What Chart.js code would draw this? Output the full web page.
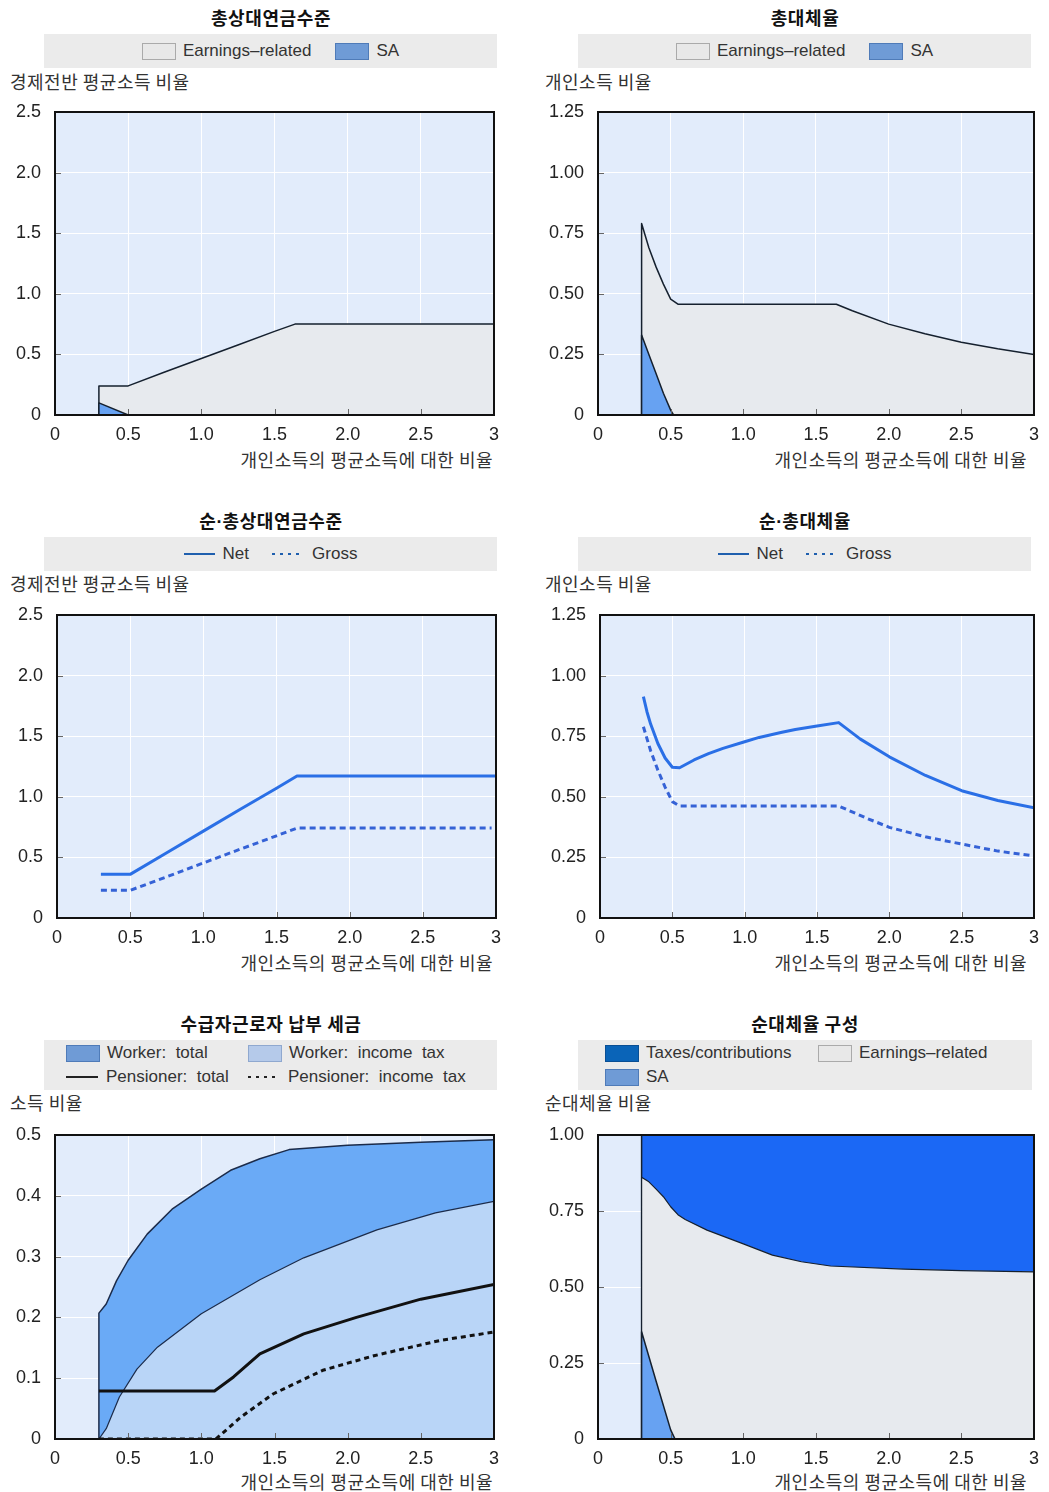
<!DOCTYPE html>
<html>
<head>
<meta charset="utf-8">
<script src="https://cdn.jsdelivr.net/npm/chart.js@4.4.1/dist/chart.umd.min.js"></script>
<style>
  html, body { margin: 0; padding: 0; background: #fff; }
  body { position: relative; width: 1049px; height: 1492px; overflow: hidden;
         font-family: "Liberation Sans", Arial, sans-serif; color: #333; }
  .abs { position: absolute; }
  .title { font-family: "Noto Sans CJK KR", sans-serif; font-weight: 700; font-size: 18px;
           letter-spacing: 0.6px; color: #111; width: 454px; text-align: center; line-height: 22px; }
  .title .dot { font-family: "Liberation Sans", Arial, sans-serif; letter-spacing: 0; }
  .unit, .xtitle { font-family: "Noto Sans CJK KR", sans-serif; font-size: 18px; letter-spacing: 0.5px;
                   color: #333; line-height: 22px; white-space: nowrap; }
  .xtitle { text-align: right; width: 400px; }
  .legend { background: #ebebeb; width: 453px; font-size: 17px; color: #333; }
  .legend.one { height: 34px; display: flex; align-items: center; justify-content: center; }
  .legend.two { height: 50px; }
  .item { display: flex; align-items: center; white-space: nowrap; }
  .sw { width: 34px; height: 17px; box-sizing: border-box; border: 1px solid #999; margin-right: 7px; }
  .ln { width: 31px; height: 2.5px; margin-right: 8px; }
  .dots { width: 28px; height: 2.5px; margin-right: 12px; }
  .row { position: absolute; left: 22px; height: 24px; display: flex; align-items: center; }
  canvas { position: absolute; }
</style>
</head>
<body>

<!-- panel titles -->
<div class="abs title" style="left:44px;top:6px">총상대연금수준</div>
<div class="abs title" style="left:578px;top:6px">총대체율</div>
<div class="abs title" style="left:44px;top:509px">순<span class="dot">·</span>총상대연금수준</div>
<div class="abs title" style="left:578px;top:509px">순<span class="dot">·</span>총대체율</div>
<div class="abs title" style="left:44px;top:1012px">수급자근로자 납부 세금</div>
<div class="abs title" style="left:578px;top:1012px">순대체율 구성</div>

<!-- legends -->
<div class="abs legend one" style="left:44px;top:34px">
  <div class="item"><span class="sw" style="background:#e8e8e8;border-color:#aaa"></span>Earnings–related</div>
  <div class="item" style="margin-left:24px"><span class="sw" style="background:#6f9bd6;border-color:#4f7bb8"></span>SA</div>
</div>
<div class="abs legend one" style="left:578px;top:34px">
  <div class="item"><span class="sw" style="background:#e8e8e8;border-color:#aaa"></span>Earnings–related</div>
  <div class="item" style="margin-left:24px"><span class="sw" style="background:#6f9bd6;border-color:#4f7bb8"></span>SA</div>
</div>
<div class="abs legend one" style="left:44px;top:537px">
  <div class="item"><span class="ln" style="background:#1f5fae"></span>Net</div>
  <div class="item" style="margin-left:23px"><span class="dots" style="background:repeating-linear-gradient(90deg,#1f5fae 0 3px,transparent 3px 8px)"></span>Gross</div>
</div>
<div class="abs legend one" style="left:578px;top:537px">
  <div class="item"><span class="ln" style="background:#1f5fae"></span>Net</div>
  <div class="item" style="margin-left:23px"><span class="dots" style="background:repeating-linear-gradient(90deg,#1f5fae 0 3px,transparent 3px 8px)"></span>Gross</div>
</div>
<div class="abs legend two" style="left:44px;top:1040px">
  <div class="row" style="top:1px">
    <div class="item" style="width:182px"><span class="sw" style="background:#6f9bd6;border-color:#4f7bb8"></span>Worker:&nbsp; total</div>
    <div class="item"><span class="sw" style="background:#b5caea;border-color:#8fa8cf"></span>Worker:&nbsp; income&nbsp; tax</div>
  </div>
  <div class="row" style="top:25px">
    <div class="item" style="width:182px"><span class="ln" style="width:32px;background:#222"></span>Pensioner:&nbsp; total</div>
    <div class="item"><span class="dots" style="background:repeating-linear-gradient(90deg,#222 0 3px,transparent 3px 8px)"></span>Pensioner:&nbsp; income&nbsp; tax</div>
  </div>
</div>
<div class="abs legend two" style="left:578px;top:1040px;width:454px">
  <div class="row" style="top:1px;left:27px">
    <div class="item" style="width:213px"><span class="sw" style="background:#0a64b8;border-color:#0a4f94"></span>Taxes/contributions</div>
    <div class="item"><span class="sw" style="background:#e8e8e8;border-color:#aaa"></span>Earnings–related</div>
  </div>
  <div class="row" style="top:25px;left:27px">
    <div class="item"><span class="sw" style="background:#6f9bd6;border-color:#4f7bb8"></span>SA</div>
  </div>
</div>

<!-- y-axis units -->
<div class="abs unit" style="left:10px;top:70px">경제전반 평균소득 비율</div>
<div class="abs unit" style="left:545px;top:70px">개인소득 비율</div>
<div class="abs unit" style="left:10px;top:572px">경제전반 평균소득 비율</div>
<div class="abs unit" style="left:545px;top:572px">개인소득 비율</div>
<div class="abs unit" style="left:10px;top:1091px">소득 비율</div>
<div class="abs unit" style="left:545px;top:1091px">순대체율 비율</div>

<!-- x-axis titles -->
<div class="abs xtitle" style="left:93px;top:448px">개인소득의 평균소득에 대한 비율</div>
<div class="abs xtitle" style="left:627px;top:448px">개인소득의 평균소득에 대한 비율</div>
<div class="abs xtitle" style="left:93px;top:951px">개인소득의 평균소득에 대한 비율</div>
<div class="abs xtitle" style="left:627px;top:951px">개인소득의 평균소득에 대한 비율</div>
<div class="abs xtitle" style="left:93px;top:1470px">개인소득의 평균소득에 대한 비율</div>
<div class="abs xtitle" style="left:627px;top:1470px">개인소득의 평균소득에 대한 비율</div>

<canvas id="cLevel"  width="520" height="370" style="left:0px;top:88px"></canvas>
<canvas id="cRate"   width="514" height="370" style="left:535px;top:88px"></canvas>
<canvas id="cNetLvl" width="520" height="370" style="left:0px;top:591px"></canvas>
<canvas id="cNetRt"  width="514" height="370" style="left:535px;top:591px"></canvas>
<canvas id="cTax"    width="520" height="370" style="left:0px;top:1111px"></canvas>
<canvas id="cComp"   width="514" height="370" style="left:535px;top:1111px"></canvas>

<script>
// ---- axis ticks -------------------------------------------------------
const X_TICKS = [0, 0.5, 1, 1.5, 2, 2.5, 3];
const X_TICK_LABELS = ['0', '0.5', '1.0', '1.5', '2.0', '2.5', '3'];
const Y_TICKS_LEVEL = [0, 0.5, 1, 1.5, 2, 2.5];
const Y_LABELS_LEVEL = ['0', '0.5', '1.0', '1.5', '2.0', '2.5'];
const Y_TICKS_RATE = [0, 0.25, 0.5, 0.75, 1, 1.25];
const Y_LABELS_RATE = ['0', '0.25', '0.50', '0.75', '1.00', '1.25'];
const Y_TICKS_TAX = [0, 0.1, 0.2, 0.3, 0.4, 0.5];
const Y_LABELS_TAX = ['0', '0.1', '0.2', '0.3', '0.4', '0.5'];
const Y_TICKS_COMP = [0, 0.25, 0.5, 0.75, 1];
const Y_LABELS_COMP = ['0', '0.25', '0.50', '0.75', '1.00'];

// ---- gross pension level (earnings-related area top, SA) ---------------
const levelErX = [0.3, 0.3, 0.5, 0.75, 1.0, 1.25, 1.5, 1.64, 2.0, 2.5, 3.0];
const levelErY = [0, 0.24, 0.24, 0.355, 0.466, 0.578, 0.69, 0.75, 0.75, 0.75, 0.75];
const levelSaX = [0.3, 0.3, 0.5];
const levelSaY = [0, 0.10, 0];

// ---- gross replacement rate ----------------------------------------------
const rateErX = [0.3, 0.3, 0.35, 0.4, 0.45, 0.5, 0.55, 1.0, 1.5, 1.64, 1.75, 2.0, 2.25, 2.5, 2.75, 3.0];
const rateErY = [0, 0.79, 0.69, 0.61, 0.54, 0.478, 0.457, 0.457, 0.457, 0.457, 0.43, 0.375, 0.335, 0.30, 0.273, 0.25];
const rateSaX = [0.3, 0.3, 0.35, 0.4, 0.45, 0.5, 0.52];
const rateSaY = [0, 0.33, 0.25, 0.17, 0.09, 0.02, 0];

// ---- net and gross pension level -----------------------------------------
const netLevelX = [0.3, 0.5, 0.75, 1.0, 1.25, 1.5, 1.64, 2.0, 2.5, 3.0];
const netLevelY = [0.36, 0.36, 0.538, 0.717, 0.895, 1.07, 1.172, 1.172, 1.172, 1.172];
const grossLevelX = [0.3, 0.5, 0.75, 1.0, 1.25, 1.5, 1.64, 2.0, 2.5, 2.97];
const grossLevelY = [0.228, 0.228, 0.34, 0.454, 0.567, 0.678, 0.742, 0.742, 0.742, 0.742];

// ---- net and gross replacement rate --------------------------------------
const netRateX = [0.3, 0.325, 0.35, 0.4, 0.45, 0.5, 0.55, 0.65, 0.75, 0.85, 1.0, 1.1, 1.25, 1.35, 1.5, 1.65,
                  1.8, 2.0, 2.25, 2.5, 2.75, 3.0];
const netRateY = [0.913, 0.85, 0.80, 0.72, 0.66, 0.622, 0.62, 0.652, 0.678, 0.70, 0.727, 0.745, 0.765, 0.778, 0.792, 0.806,
                  0.738, 0.665, 0.588, 0.525, 0.485, 0.455];
const grossRateX = [0.3, 0.35, 0.4, 0.45, 0.5, 0.55, 1.0, 1.5, 1.65, 1.85, 2.0, 2.25, 2.5, 2.75, 3.0];
const grossRateY = [0.789, 0.69, 0.61, 0.54, 0.48, 0.462, 0.462, 0.462, 0.462, 0.41, 0.374, 0.335, 0.305, 0.276, 0.256];

// ---- taxes paid by pensioners and workers --------------------------------
const workerTotalX = [0.3, 0.3, 0.35, 0.42, 0.5, 0.63, 0.8, 1.0, 1.2, 1.4, 1.6, 2.0, 2.5, 3.0];
const workerTotalY = [0, 0.207, 0.222, 0.26, 0.294, 0.337, 0.378, 0.411, 0.442, 0.461, 0.476, 0.483, 0.488, 0.492];
const workerIncomeTaxX = [0.3, 0.35, 0.44, 0.56, 0.7, 1.0, 1.4, 1.7, 2.2, 2.6, 3.0];
const workerIncomeTaxY = [0, 0.017, 0.069, 0.115, 0.151, 0.206, 0.262, 0.298, 0.344, 0.372, 0.391];
const pensionerTotalX = [0.3, 1.09, 1.22, 1.4, 1.7, 2.06, 2.5, 3.0];
const pensionerTotalY = [0.079, 0.079, 0.102, 0.140, 0.173, 0.200, 0.230, 0.254];
const pensionerIncomeTaxX = [0.3, 1.1, 1.27, 1.49, 1.83, 2.18, 2.63, 3.0];
const pensionerIncomeTaxY = [0, 0, 0.036, 0.074, 0.113, 0.137, 0.162, 0.176];

// ---- composition of the net replacement rate (cumulative tops) -----------
const compTaxX = [0.3, 0.3, 3.0];
const compTaxY = [0, 1.0, 1.0];
const compErX = [0.3, 0.3, 0.35, 0.4, 0.45, 0.5, 0.55, 0.6, 0.75, 1.0, 1.2, 1.4, 1.6, 2.1, 2.5, 3.0];
const compErY = [0, 0.861, 0.846, 0.822, 0.797, 0.764, 0.738, 0.722, 0.687, 0.642, 0.605, 0.583, 0.569, 0.559, 0.554, 0.55];
const compSaX = [0.3, 0.3, 0.4, 0.5, 0.53];
const compSaY = [0, 0.353, 0.19, 0.03, 0];

// ---- styling --------------------------------------------------------------
const PLOT_BG = '#e2ecfb';
const ER_FILL = '#e7eaee';
const SA_FILL = '#67a2f2';
const OUTLINE = '#15202e';
const NET_COLOR = '#2a6fe6';
const GROSS_COLOR = '#3562d6';
const CANVAS_H = 370;
const PLOT_TOP = 24;   // label half line-height + tick padding
const TICK_FONT = { family: "'Liberation Sans', Arial, sans-serif", size: 18, lineHeight: '20px' };

function pts(xs, ys) { return xs.map((x, i) => ({ x: x, y: ys[i] })); }

// light-blue plot background, dark frame and inward tick marks
const framePlugin = {
  id: 'frame',
  beforeDraw(chart) {
    const { ctx, chartArea: a } = chart;
    ctx.save();
    ctx.fillStyle = PLOT_BG;
    ctx.fillRect(a.left, a.top, a.right - a.left, a.bottom - a.top);
    ctx.restore();
  },
  afterDatasetsDraw(chart) {
    const { ctx, chartArea: a, scales } = chart;
    const xs = scales.x, ys = scales.y;
    ctx.save();
    ctx.strokeStyle = '#666';
    ctx.lineWidth = 1;
    xs.ticks.forEach(t => {
      if (t.value <= xs.min || t.value >= xs.max) return;
      const p = Math.round(xs.getPixelForValue(t.value)) + 0.5;
      ctx.beginPath(); ctx.moveTo(p, a.bottom); ctx.lineTo(p, a.bottom - 6); ctx.stroke();
    });
    ys.ticks.forEach(t => {
      if (t.value <= ys.min || t.value >= ys.max) return;
      const p = Math.round(ys.getPixelForValue(t.value)) + 0.5;
      ctx.beginPath(); ctx.moveTo(a.left, p); ctx.lineTo(a.left + 6, p); ctx.stroke();
    });
    ctx.strokeStyle = '#111';
    ctx.lineWidth = 2;
    ctx.strokeRect(a.left, a.top, a.right - a.left, a.bottom - a.top);
    ctx.restore();
  }
};

function makeChart(id, o) {
  const plotH = o.plotHeight;
  return new Chart(document.getElementById(id), {
    type: 'line',
    data: { datasets: o.datasets },
    options: {
      responsive: false,
      animation: false,
      events: [],
      layout: { padding: { top: 0, right: o.padRight, left: 0, bottom: 0 } },
      plugins: { legend: { display: false }, tooltip: { enabled: false } },
      elements: { point: { radius: 0 }, line: { tension: 0, borderJoinStyle: 'round' } },
      scales: {
        x: {
          type: 'linear', min: 0, max: 3,
          afterBuildTicks(s) { s.ticks = X_TICKS.map(v => ({ value: v })); },
          ticks: { callback: (v, i) => X_TICK_LABELS[i], padding: 10, font: TICK_FONT, color: '#222',
                   maxRotation: 0, autoSkip: false },
          grid: { color: '#ffffff', lineWidth: 1, drawTicks: false },
          border: { display: false },
          afterFit(s) { s.height = CANVAS_H - PLOT_TOP - plotH; }
        },
        y: {
          type: 'linear', min: 0, max: o.yMax,
          afterBuildTicks(s) { s.ticks = o.yTicks.map(v => ({ value: v })); },
          ticks: { callback: (v, i) => o.yLabels[i], padding: 14, font: TICK_FONT, color: '#222', autoSkip: false },
          grid: { color: '#ffffff', lineWidth: 1, drawTicks: false },
          border: { display: false },
          afterFit(s) { s.width = o.yWidth; }
        }
      }
    },
    plugins: [framePlugin]
  });
}

function area(xs, ys, fillColor, order, border, bw) {
  return { data: pts(xs, ys), fill: 'origin', backgroundColor: fillColor,
           borderColor: border || OUTLINE, borderWidth: bw || 1.5, order: order };
}
function line(xs, ys, color, width, dash, order) {
  return { data: pts(xs, ys), fill: false, borderColor: color, borderWidth: width,
           borderDash: dash || [], order: order };
}

makeChart('cLevel', {
  yWidth: 55, padRight: 26, plotHeight: 303, yMax: 2.5, yTicks: Y_TICKS_LEVEL, yLabels: Y_LABELS_LEVEL,
  datasets: [
    Object.assign(area(levelSaX, levelSaY, SA_FILL, 1), { label: 'SA' }),
    Object.assign(area(levelErX, levelErY, ER_FILL, 2), { label: 'Earnings-related' })
  ]
});

makeChart('cRate', {
  yWidth: 63, padRight: 11, plotHeight: 303, yMax: 1.25, yTicks: Y_TICKS_RATE, yLabels: Y_LABELS_RATE,
  datasets: [
    Object.assign(area(rateSaX, rateSaY, SA_FILL, 1), { label: 'SA' }),
    Object.assign(area(rateErX, rateErY, ER_FILL, 2), { label: 'Earnings-related' })
  ]
});

makeChart('cNetLvl', {
  yWidth: 57, padRight: 24, plotHeight: 303, yMax: 2.5, yTicks: Y_TICKS_LEVEL, yLabels: Y_LABELS_LEVEL,
  datasets: [
    Object.assign(line(netLevelX, netLevelY, NET_COLOR, 3, [], 1), { label: 'Net' }),
    Object.assign(line(grossLevelX, grossLevelY, GROSS_COLOR, 3, [6, 4], 2), { label: 'Gross' })
  ]
});

makeChart('cNetRt', {
  yWidth: 65, padRight: 9, plotHeight: 303, yMax: 1.25, yTicks: Y_TICKS_RATE, yLabels: Y_LABELS_RATE,
  datasets: [
    Object.assign(line(netRateX, netRateY, NET_COLOR, 3, [], 1), { label: 'Net' }),
    Object.assign(line(grossRateX, grossRateY, GROSS_COLOR, 3, [6, 4], 2), { label: 'Gross' })
  ]
});

makeChart('cTax', {
  yWidth: 55, padRight: 26, plotHeight: 304, yMax: 0.5, yTicks: Y_TICKS_TAX, yLabels: Y_LABELS_TAX,
  datasets: [
    Object.assign(line(pensionerIncomeTaxX, pensionerIncomeTaxY, '#111', 3, [5, 4], 1), { label: 'Pensioner: income tax' }),
    Object.assign(line(pensionerTotalX, pensionerTotalY, '#111', 3, [], 2), { label: 'Pensioner: total' }),
    Object.assign(area(workerIncomeTaxX, workerIncomeTaxY, '#b9d5f7', 3, '#1b2b4a', 1.2), { label: 'Worker: income tax' }),
    Object.assign(area(workerTotalX, workerTotalY, '#6aaaf6', 4, '#1b2b4a', 1.5), { label: 'Worker: total' })
  ]
});

makeChart('cComp', {
  yWidth: 63, padRight: 11, plotHeight: 304, yMax: 1, yTicks: Y_TICKS_COMP, yLabels: Y_LABELS_COMP,
  datasets: [
    Object.assign(area(compSaX, compSaY, SA_FILL, 1), { label: 'SA' }),
    Object.assign(area(compErX, compErY, ER_FILL, 2, '#15202e', 1.2), { label: 'Earnings-related' }),
    Object.assign(area(compTaxX, compTaxY, '#1b68f5', 3), { label: 'Taxes/contributions' })
  ]
});
</script>
</body>
</html>
